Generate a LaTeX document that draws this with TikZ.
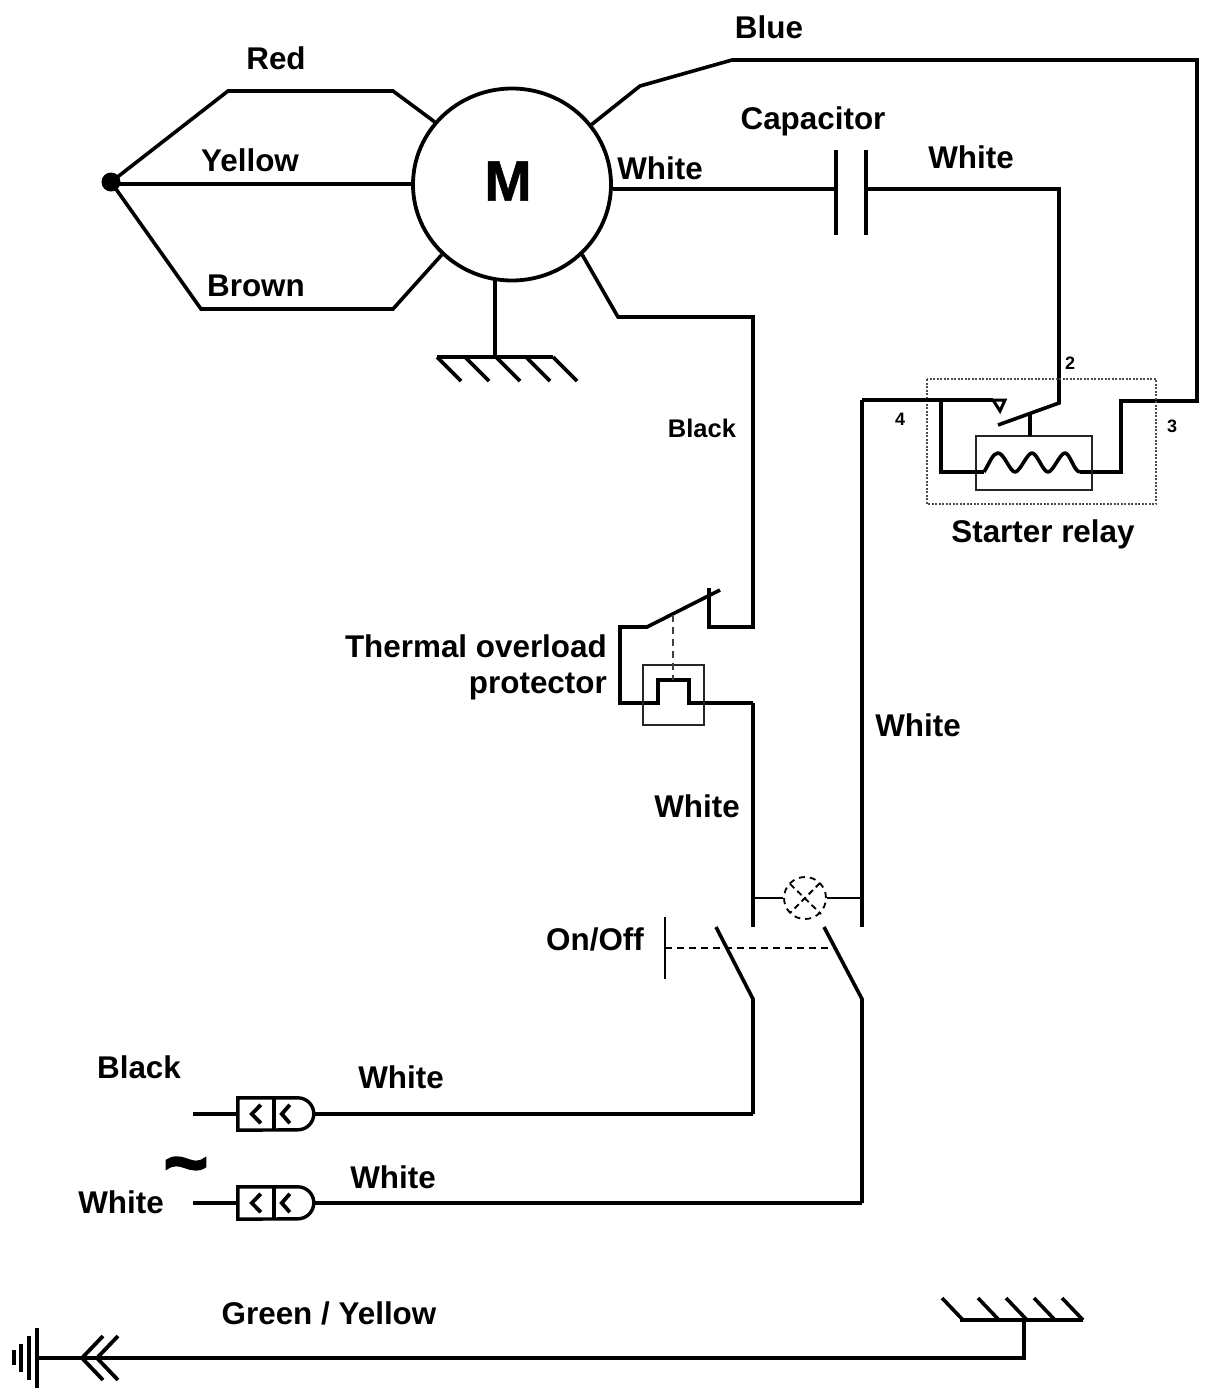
\documentclass[tikz,border=0pt]{standalone}
\usepackage{fontspec}
\usetikzlibrary{shapes.geometric}
\setmainfont{Liberation Sans}
\newcommand{\lblfont}[1]{\fontsize{#1}{#1}\selectfont\bfseries}
\tikzset{
  wire/.style={draw=black,line width=3.6pt,line join=miter},
  thinwire/.style={draw=black,line width=2.4pt},
  dashwire/.style={draw=black,line width=1.8pt,dash pattern=on 7pt off 5pt},
  lbl/.style={font=\lblfont{31.4},inner sep=0pt,text=black},
  smalllbl/.style={font=\lblfont{18},inner sep=0pt,text=black},
  dotnode/.style={circle,fill=black,minimum size=19pt,inner sep=0pt},
  motor/.style={ellipse,draw=black,line width=3.8pt,minimum width=198pt,minimum height=192pt,inner sep=0pt},
  lampnode/.style={circle,draw=black,line width=1.8pt,dash pattern=on 6pt off 5pt,minimum size=42pt,inner sep=0pt},
  plugnode/.style={minimum width=76pt,minimum height=32pt,inner sep=0pt},
  relaybox/.style={draw=black!70,line width=2.4pt,dash pattern=on 2pt off 1.5pt},
  framebox/.style={draw=black!85,line width=2pt}
}
\newcommand{\plugshape}[1]{%
  \draw[line width=3.4pt,line join=miter] (#1.north west) -- ([xshift=60pt]#1.north west)
     arc[start angle=90,end angle=-90,radius=16pt] -- (#1.south west) -- cycle;
  \draw[line width=3.4pt] ([xshift=36pt]#1.north west) -- ([xshift=36pt]#1.south west);
  \draw[line width=3.8pt] ([xshift=23pt,yshift=-7pt]#1.north west) -- ([xshift=14pt]#1.west) -- ([xshift=23pt,yshift=7pt]#1.south west);
  \draw[line width=3.8pt] ([xshift=52pt,yshift=-7pt]#1.north west) -- ([xshift=44pt]#1.west) -- ([xshift=52pt,yshift=7pt]#1.south west);
}
\begin{document}
\begin{tikzpicture}[x=1pt,y=-1pt]
\useasboundingbox (0,0) rectangle (1212,1393);

% motor and star point
\node[motor] (M) at (512,184.5) {};
\node[font=\lblfont{57},inner sep=0pt] (Mlabel) at (508,181) {\addfontfeatures{FakeBold=1}M};
\node[dotnode] (star) at (111,182) {};
\coordinate (yellowEnd) at (414,184);
\draw[wire] (star.center) -- (228,91) -- (393,91) -- (M.141);
\draw[wire] (111,184) -- (yellowEnd);
\draw[wire] (star.center) -- (201,309) -- (393,309) -- (M.225);

% relay coordinates
\coordinate (relay4) at (862,400);
\coordinate (relay2) at (1059,403);
\coordinate (relay3) at (1121,401);
\coordinate (coilL) at (984,472);
\coordinate (coilR) at (1080,472);

% blue
\draw[wire] (M.37) -- (640,86) -- (732,60) -- (1197,60) -- (1197,401) -- (relay3) -- (1121,472) -- (coilR);

% capacitor
\coordinate (capL) at (836,189);
\coordinate (capR) at (866,189);
\draw[wire] (capL -| M.east) -- (capL);
\draw[line width=4.2pt] (836,150) -- (836,235);
\draw[line width=4.2pt] (866,150) -- (866,235);
\draw[wire] (capR) -- (1059,189) -- (relay2) -- (998,425);

% starter relay
\draw[relaybox] (927,379) rectangle (1156,504);
\node[draw=black!85,line width=2pt,minimum width=116pt,minimum height=54pt,inner sep=0pt] (coilbox) at (1034,463) {};
\draw[wire] (relay4) -- (993,400);
\draw[line width=3pt,line join=miter] (993,400) -- (1005,400) -- (1000,411) -- cycle;
\draw[wire] (941,400) -- (941,472) -- (coilL);
\draw[line width=3.2pt] (1030,413) -- (1030,436);
\draw[wire,line join=round] (coilL) .. controls (990,462) and (993,453) .. (998,453)
   .. controls (1004,453) and (1010,472) .. (1015,472)
   .. controls (1020,472) and (1027,453) .. (1032,453)
   .. controls (1037,453) and (1043,472) .. (1048,472)
   .. controls (1053,472) and (1060,453) .. (1065,453)
   .. controls (1070,453) and (1074,472) .. (coilR);

% black wire and thermal protector
\coordinate (thermIn) at (753,627);
\coordinate (thermOut) at (753,703);
\draw[wire] (M.-45) -- (618,317) -- (753,317) -- (thermIn) -- (709,627) -- (709,588);
\draw[wire] (720,590) -- (647,627) -- (620,627) -- (620,703) -- (658,703) -- (658,680) -- (689,680) -- (689,703) -- (thermOut);
\node[draw=black!85,line width=2pt,minimum width=61pt,minimum height=60pt,inner sep=0pt] (thermbox) at (673.5,695) {};
\draw[line width=2.2pt,draw=black!75,dash pattern=on 7pt off 5pt] (673,615) -- (673,680);

% verticals, lamp, switches
\coordinate (swLtop) at (753,927);
\coordinate (swRtop) at (862,927);
\coordinate (swLbot) at (753,999);
\coordinate (swRbot) at (862,999);
\draw[wire] (thermOut) -- (swLtop);
\draw[wire] (relay4) -- (862,832);
\draw[wire] (862,822) -- (swRtop);
\node[lampnode] (lamp) at (805,898) {};
\draw[thinwire] (swLtop |- lamp.west) -- (lamp.west);
\draw[thinwire] (lamp.east) -- (swRtop |- lamp.east);
\draw[line width=1.8pt,dash pattern=on 6pt off 4pt] (790,884) -- (821,914);
\draw[line width=1.8pt,dash pattern=on 6pt off 4pt] (820,883) -- (790,913);
\draw[wire] (716,927) -- (swLbot) -- (753,1114);
\draw[wire] (824,927) -- (swRbot) -- (862,1203);
\draw[line width=1.5pt] (665,917) -- (665,979);
\draw[dashwire] (665,948) -- (837,948);

% plugs
\node[plugnode] (plugA) at (276,1114) {};
\node[plugnode] (plugB) at (276,1203) {};
\plugshape{plugA}
\plugshape{plugB}
\coordinate (leadA) at (193,1114);
\coordinate (leadB) at (193,1203);
\draw[line width=3.2pt] (leadA) -- (plugA.west);
\draw[line width=3.2pt] (leadB) -- (plugB.west);
\draw[wire] (plugA.east) -- (plugA.east -| swLbot);
\draw[wire] (plugB.east) -- (plugB.east -| swRbot);

% motor ground
\coordinate (gndM) at (495,357);
\draw[wire] (495,280) -- (gndM);
\draw[line width=3.6pt] (437,357) -- (553,357);
\foreach \gx in {437,465,496,526,553}
  \draw[line width=3.6pt] (\gx,357) -- (\gx+24,381);

% earth line
\coordinate (gndE) at (1024,1320);
\coordinate (earthEnd) at (37,1358);
\draw[line width=3.6pt] (960,1320) -- (1083,1320);
\foreach \gx in {942,978,1006,1034,1062}
  \draw[line width=3.6pt] (\gx,1298) -- (\gx+21,1320);
\draw[wire] (gndE) -- (1024,1358) -- (earthEnd);
\draw[line width=4.2pt] (37,1328) -- (37,1388);
\draw[line width=4.2pt] (29,1336) -- (29,1380);
\draw[line width=4.2pt] (21,1344) -- (21,1372);
\draw[line width=4.2pt] (14,1350) -- (14,1365);
\draw[line width=3.8pt] (103,1336) -- (82,1358) -- (103,1380);
\draw[line width=3.8pt] (118,1336) -- (97,1358) -- (118,1380);

% labels
\node[lbl] (tRed) at (276,58) {Red};
\node[lbl] (tYellow) at (250,160) {Yellow};
\node[lbl] (tBrown) at (256,286) {Brown};
\node[lbl] (tBlue) at (769,27) {Blue};
\node[lbl] (tW1) at (660,168) {White};
\node[lbl] (tCap) at (813,121) {Capacitor};
\node[lbl] (tW2) at (971,157) {White};
\node[smalllbl] (t2) at (1070,363) {2};
\node[smalllbl] (t4) at (900,419) {4};
\node[smalllbl] (t3) at (1172,426) {3};
\node[lbl] (tRelay) at (1043,534) {Starter relay};
\node[lbl,font=\lblfont{25.5}] (tBlack) at (702,428) {Black};
\node[lbl,anchor=east] (tTh1) at (607,646) {Thermal overload};
\node[lbl,anchor=east] (tTh2) at (607,687) {protector};
\node[lbl] (tW3) at (918,725) {White};
\node[lbl] (tW4) at (697,806) {White};
\node[lbl] (tOn) at (595,939) {On/Off};
\node[lbl] (tBlack2) at (139,1067) {Black};
\node[lbl] (tW5) at (401,1077) {White};
\node[font=\lblfont{76},inner sep=0pt] (tTilde) at (186,1173) {\addfontfeatures{FakeBold=3}\char"7E};
\node[lbl] (tW6) at (121,1202) {White};
\node[lbl] (tW7) at (393,1177) {White};
\node[lbl] (tGY) at (329,1313) {Green / Yellow};
\end{tikzpicture}
\end{document}
